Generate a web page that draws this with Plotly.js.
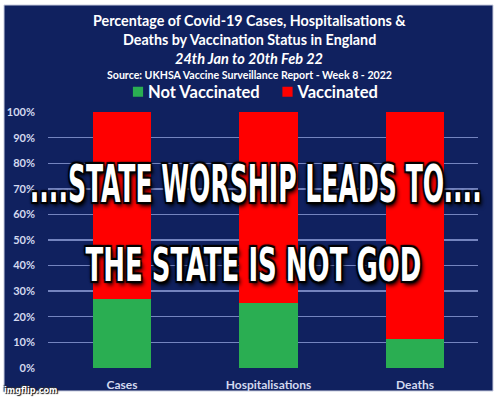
<!DOCTYPE html>
<html>
<head>
<meta charset="utf-8">
<script src="https://cdn.plot.ly/plotly-3.0.1.min.js"></script>
<style>
  html, body { margin: 0; padding: 0; background: #ffffff; }
  #chart { width: 500px; height: 397px; }
</style>
</head>
<body>
<div id="chart"></div>
<script>
// ---- data ----
const categories = ["Cases", "Hospitalisations", "Deaths"];
const notVaccinated = [0.27, 0.253, 0.113];
const vaccinated = [0.73, 0.747, 0.887];
const seriesNames = ["Not Vaccinated", "Vaccinated"];
const yTickVals = [0, 0.1, 0.2, 0.3, 0.4, 0.5, 0.6, 0.7, 0.8, 0.9, 1.0];
const titleLines = [
  "Percentage of Covid-19 Cases, Hospitalisations &",
  "Deaths by Vaccination Status in England",
  "24th Jan to 20th Feb 22",
  "Source: UKHSA Vaccine Surveillance Report - Week 8 - 2022"
];
const memeLines = ["....STATE WORSHIP LEADS TO....", "THE STATE IS NOT GOD"];
const watermark = "imgflip.com";

// ---- styling ----
const NAVY = "#10215f";
const GREEN = "#2aae52";
const RED = "#ff0000";
const LIGHT = "#d3d9ef";
const GRID = "#7484bf";
const SANS = "Lato, 'Open Sans', sans-serif";
const MEME = "'Liberation Sans Narrow', 'DejaVu Sans Condensed', 'DejaVu Sans', sans-serif";

const ml = 48, mr = 22, mt = 112, mb = 29, W = 500, H = 397;
const pw = W - ml - mr, ph = H - mt - mb;
const px = x => (x - ml) / pw;
const py = y => (H - mb - y) / ph;

const traces = [
  { type: "bar", name: seriesNames[0], x: categories, y: notVaccinated,
    marker: { color: GREEN, line: { width: 0 } }, width: 0.396, hoverinfo: "none" },
  { type: "bar", name: seriesNames[1], x: categories, y: vaccinated,
    marker: { color: RED, line: { width: 0 } }, width: 0.396, hoverinfo: "none" }
];

const memeShadow = "-2px -2px 1px #000, 2px -2px 1px #000, -2px 2px 1px #000, 2px 2px 1px #000, 0 0 4px #000, 3px 3px 5px #000";

const annotations = [
  { text: "<b>" + titleLines[0] + "</b>", x: px(249.5), y: py(20), font: { family: SANS, size: 14.3, color: "#ffffff" } },
  { text: "<b>" + titleLines[1] + "</b>", x: px(249), y: py(39), font: { family: SANS, size: 14.3, color: "#ffffff" } },
  { text: "<b><i>" + titleLines[2] + "</i></b>", x: px(249), y: py(58), font: { family: SANS, size: 14.5, color: "#ffffff" } },
  { text: "<b>" + titleLines[3] + "</b>", x: px(249), y: py(75), font: { family: SANS, size: 10.6, color: "#ffffff" } },
  { text: memeLines[0], x: px(255), y: py(184), font: { family: MEME, size: 51, color: "#ffffff", weight: "bold", shadow: memeShadow } },
  { text: memeLines[1], x: px(253), y: py(265), font: { family: MEME, size: 46, color: "#ffffff", weight: "bold", shadow: memeShadow } },
  { text: "<b>" + watermark + "</b>", x: px(2), y: py(390), xanchor: "left",
    font: { family: "'DejaVu Sans Condensed', sans-serif", size: 9, color: "#ffffff", shadow: "1px 1px 1px #000, -1px -1px 1px #333" } }
].map(a => Object.assign({ xref: "paper", yref: "paper", xanchor: "center", yanchor: "middle", showarrow: false }, a));

const layout = {
  width: W, height: H,
  margin: { l: ml, r: mr, t: mt, b: mb, pad: 0 },
  paper_bgcolor: "#ffffff",
  plot_bgcolor: "rgba(0,0,0,0)",
  barmode: "stack",
  showlegend: true,
  legend: {
    orientation: "h", x: px(118), xanchor: "left", y: py(92), yanchor: "middle",
    font: { family: SANS, size: 16.5, color: "#ffffff", weight: "bold" },
    traceorder: "normal", bgcolor: "rgba(0,0,0,0)", borderwidth: 0
  },
  xaxis: {
    range: [-0.505, 2.43], showgrid: false, zeroline: false, showline: false,
    tickfont: { family: SANS, size: 12, color: LIGHT, weight: "bold" },
    ticks: "", ticklabelstandoff: 8, fixedrange: true
  },
  yaxis: {
    range: [-0.001, 1.001], tickvals: yTickVals, tickformat: ".0%",
    showgrid: true, gridcolor: GRID, gridwidth: 1.3, zeroline: false, showline: false,
    tickfont: { family: SANS, size: 11, color: LIGHT, weight: "bold" },
    ticks: "", ticklabelstandoff: 12, fixedrange: true
  },
  shapes: [
    { type: "rect", xref: "paper", yref: "paper", layer: "below",
      x0: px(4), x1: px(493), y0: py(391), y1: py(5),
      fillcolor: NAVY, line: { width: 1, color: "#c8cde0" } }
  ],
  annotations: annotations
};

Plotly.newPlot("chart", traces, layout, { displayModeBar: false, staticPlot: true }).then(gd => {
  // squeeze the meme captions horizontally, like the condensed poster face
  const targets = { 4: 452, 5: 336 };
  gd.querySelectorAll("g.annotation").forEach(g => {
    const idx = g.getAttribute("data-index");
    if (targets[idx] === undefined) return;
    const t = g.querySelector("text.annotation-text");
    if (!t) return;
    const bb = t.getBBox();
    const sx = targets[idx] / bb.width;
    const cx = bb.x + bb.width / 2;
    t.setAttribute("transform", `translate(${cx},0) scale(${sx},1) translate(${-cx},0)`);
  });
  // tighter legend: smaller swatch, text close to it, swatches where the reference has them
  const swatchCentres = [138, 287.5];
  const hostLeft = gd.getBoundingClientRect().left;
  gd.querySelectorAll("g.legend g.traces").forEach((tr, i) => {
    const txt = tr.querySelector("text.legendtext");
    if (txt) txt.setAttribute("x", 30);
    const p = tr.querySelector("g.legendpoints path");
    if (!p) return;
    p.setAttribute("transform", (p.getAttribute("transform") || "") + " scale(0.85)");
    const r = p.getBoundingClientRect();
    const cx = r.left - hostLeft + r.width / 2;
    const m = /translate\(\s*([-\d.e]+)[\s,]+([-\d.e]+)\s*\)/.exec(tr.getAttribute("transform") || "translate(0,0)");
    if (!m || swatchCentres[i] === undefined) return;
    const nx = parseFloat(m[1]) + (swatchCentres[i] - cx);
    tr.setAttribute("transform", `translate(${nx},${m[2]})`);
  });
});
</script>
</body>
</html>
